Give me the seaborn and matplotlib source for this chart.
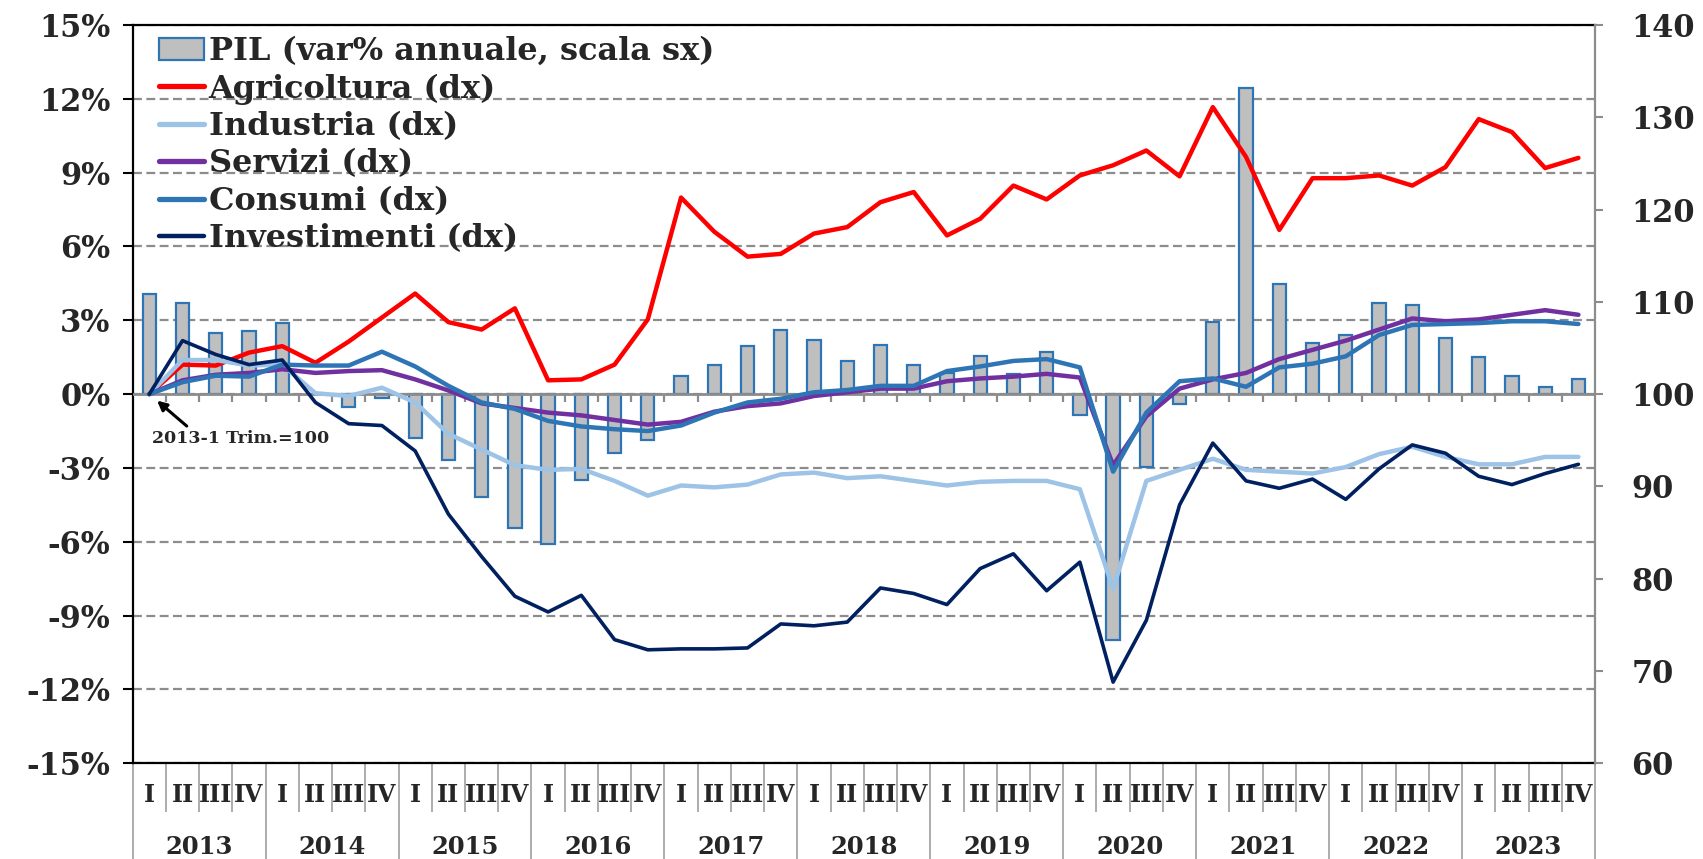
import numpy as np
import pandas as pd
import matplotlib
matplotlib.use("Agg")
import matplotlib.pyplot as plt
import seaborn as sns
from matplotlib.patches import Patch
from matplotlib.lines import Line2D
from matplotlib.ticker import FuncFormatter, MultipleLocator

# Dati trimestrali 2013-I ... 2023-IV
years = [str(y) for y in range(2013, 2024)]
quarters = ["I", "II", "III", "IV"]

# PIL, var% annuale (scala sx)
pil = [4.05, 3.72, 2.47, 2.58, 2.89, 0.0, -0.54, -0.16,
       -1.78, -2.68, -4.19, -5.42, -6.08, -3.49, -2.39, -1.86,
       0.72, 1.18, 1.97, 2.62, 2.20, 1.33, 2.00, 1.20,
       0.86, 1.55, 0.80, 1.72, -0.84, -10.0, -2.95, -0.38,
       2.93, 12.42, 4.49, 2.09, 2.39, 3.69, 3.61, 2.27,
       1.51, 0.72, 0.30, 0.61]

# Indici 2013-I = 100 (scala dx)
agricoltura = [100, 103.2, 103.1, 104.5, 105.2, 103.4, 105.7, 108.3,
               110.9, 107.8, 107.0, 109.3, 101.5, 101.6, 103.2, 108.1,
               121.3, 117.6, 114.9, 115.2, 117.4, 118.1, 120.8, 121.9,
               117.2, 119.0, 122.6, 121.1, 123.7, 124.8, 126.4, 123.6,
               131.1, 125.7, 117.8, 123.4, 123.4, 123.7, 122.6, 124.6,
               129.8, 128.4, 124.5, 125.6]
industria = [100, 103.7, 103.7, 103.1, 103.2, 100.1, 99.8, 100.7,
             99.1, 95.7, 94.0, 92.3, 91.8, 91.9, 90.6, 89.0,
             90.1, 89.9, 90.2, 91.3, 91.5, 90.9, 91.1, 90.6,
             90.1, 90.5, 90.6, 90.6, 89.7, 78.9, 90.6, 91.8,
             93.0, 91.8, 91.6, 91.4, 92.1, 93.5, 94.3, 93.2,
             92.4, 92.4, 93.2, 93.2]
servizi = [100, 101.5, 102.1, 102.3, 102.7, 102.3, 102.5, 102.6,
           101.6, 100.4, 99.0, 98.5, 98.0, 97.7, 97.2, 96.7,
           97.0, 98.1, 98.7, 99.0, 99.8, 100.2, 100.6, 100.6,
           101.4, 101.7, 101.9, 102.2, 101.8, 92.3, 97.6, 100.6,
           101.6, 102.3, 103.8, 104.8, 105.8, 107.0, 108.2, 107.9,
           108.1, 108.6, 109.1, 108.6]
consumi = [100, 101.3, 102.0, 101.9, 103.2, 103.1, 103.1, 104.6,
           103.0, 100.9, 99.1, 98.4, 97.1, 96.5, 96.2, 96.0,
           96.6, 98.0, 99.1, 99.5, 100.2, 100.45, 100.9, 100.9,
           102.5, 103.0, 103.6, 103.8, 102.9, 91.6, 98.0, 101.4,
           101.7, 100.8, 102.9, 103.3, 104.1, 106.4, 107.5, 107.6,
           107.7, 107.9, 107.9, 107.6]
investimenti = [100, 105.8, 104.3, 103.2, 103.7, 99.1, 96.8, 96.6,
                93.85, 87.0, 82.4, 78.1, 76.4, 78.2, 73.4, 72.3,
                72.4, 72.4, 72.5, 75.1, 74.9, 75.3, 79.0, 78.4,
                77.2, 81.1, 82.7, 78.7, 81.8, 68.8, 75.5, 88.0,
                94.7, 90.6, 89.8, 90.8, 88.6, 91.9, 94.5, 93.6,
                91.1, 90.2, 91.4, 92.4]

series_names = ["Agricoltura (dx)", "Industria (dx)", "Servizi (dx)",
                "Consumi (dx)", "Investimenti (dx)"]
series_values = [agricoltura, industria, servizi, consumi, investimenti]
series_colors = ["#FF0000", "#9DC3E6", "#7030A0", "#2E75B6", "#002060"]
series_widths = [3.2, 3.2, 3.2, 3.2, 2.6]
bar_label = "PIL (var% annuale, scala sx)"

n = len(pil)
pos = np.arange(n)

sns.set_theme(style="ticks")
plt.rcParams["font.family"] = ["DejaVu Serif"]
plt.rcParams["font.weight"] = "bold"
plt.rcParams["axes.unicode_minus"] = False

fig = plt.figure(figsize=(17.03, 8.59), dpi=100)
ax = fig.add_axes([0.0779, 0.1114, 0.8587, 0.8595])

# barre PIL
sns.barplot(x=pos, y=pil, native_scale=True, ax=ax, color="#BFBFBF",
            saturation=1, edgecolor="#2E75B6", linewidth=1.6, width=0.4,
            zorder=2)

ax.set_xlim(-0.5, n - 0.5)
ax.set_ylim(-15, 15)
ax.yaxis.set_major_locator(MultipleLocator(3))
ax.yaxis.set_major_formatter(FuncFormatter(lambda v, p: f"{int(round(v))}%"))
ax.set_axisbelow(True)
ax.yaxis.grid(True, color="#8C8C8C", lw=1.6, ls=(0, (4, 2)))
ax.set_xticks([])
ax.set_xlabel("")
ax.set_ylabel("")
ax.tick_params(axis="y", which="major", left=True, direction="out", length=7,
               width=1.5, color="black", labelsize=22, pad=9)

# linea dello zero con tacche
ax.axhline(0, color="#8C8C8C", lw=2, zorder=3)
ax.vlines(pos[:-1] + 0.5, -0.33, 0, color="#8C8C8C", lw=1.6, zorder=3)

for s in ["top", "left", "bottom"]:
    ax.spines[s].set_color("black")
    ax.spines[s].set_linewidth(1.6)
ax.spines["right"].set_visible(False)

# linee su scala destra
ax2 = ax.twinx()
for name, vals, col, lw in zip(series_names, series_values, series_colors, series_widths):
    sns.lineplot(x=pos, y=vals, ax=ax2, color=col, lw=lw, label=name, legend=False)

ax2.set_ylim(60, 140)
ax2.set_yticks(range(60, 141, 10))
ax2.set_xlim(-0.5, n - 0.5)
ax2.tick_params(axis="y", right=True, direction="out", length=6, width=1.5,
                color="#8C8C8C", labelsize=22, pad=20)
for s in ["top", "left", "bottom"]:
    ax2.spines[s].set_visible(False)
ax2.spines["right"].set_color("#8C8C8C")
ax2.spines["right"].set_linewidth(1.6)
ax2.set_ylabel("")

# legenda
handles = [Patch(facecolor="#BFBFBF", edgecolor="#2E75B6", lw=1.6)]
handles += [Line2D([0], [0], color=c, lw=w + 0.6) for c, w in zip(series_colors, series_widths)]
ax2.legend(handles, [bar_label] + series_names, loc="upper left",
           bbox_to_anchor=(0.018, 0.985), frameon=False, fontsize=23,
           handlelength=1.4, handletextpad=0.15, labelspacing=0.2,
           borderaxespad=0, borderpad=0)

# nota base indice
ax.annotate("", xy=(0.17, -0.19), xytext=(1.19, -1.37),
            arrowprops=dict(arrowstyle="-|>", color="black", lw=2.2, mutation_scale=14))
ax.text(0.07, -1.81, "2013-1 Trim.=100", fontsize=12.5, fontweight="bold",
        ha="left", va="center")

# asse categorie a due livelli
xt = ax.get_xaxis_transform()
for b in range(n + 1):
    x = b - 0.5
    bottom = -0.13 if b % 4 == 0 else -0.066
    ax.vlines(x, bottom, 0, transform=xt, color="#A6A6A6", lw=1.3, clip_on=False)
for i in pos:
    ax.text(i, -0.0436, quarters[i % 4], transform=xt, ha="center", va="center",
            fontsize=17, fontweight="bold")
for k, y in enumerate(years):
    ax.text(4 * k + 1.5, -0.113, y, transform=xt, ha="center", va="center",
            fontsize=17.5, fontweight="bold")

fig.savefig("out.png", dpi=100)
